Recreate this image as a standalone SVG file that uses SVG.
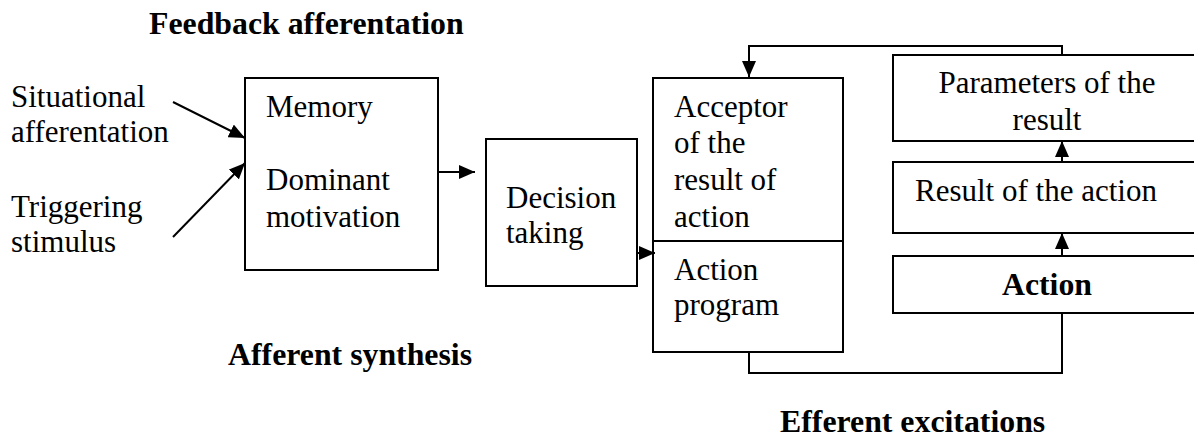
<svg xmlns="http://www.w3.org/2000/svg" width="1194" height="441" viewBox="0 0 1194 441">
<style>
.box{fill:#fff;stroke:#000;stroke-width:2}
.t{font-family:"Liberation Serif","Times New Roman",serif;font-size:31px;fill:#000}
.b{font-weight:bold;font-size:31.8px}
.ln{fill:none;stroke:#000;stroke-width:2}
</style>
<defs>
<marker id="ah" viewBox="0 0 16 14" refX="16" refY="7" markerWidth="16" markerHeight="14" markerUnits="userSpaceOnUse" orient="auto">
<path d="M0,0 L16,7 L0,14 Z" fill="#000"/>
</marker>
</defs>
<rect width="1194" height="441" fill="#fff"/>
<g id="labels">
<text class="t b" x="149" y="34">Feedback afferentation</text>
<text class="t b" x="228" y="365">Afferent synthesis</text>
<text class="t b" x="780" y="432">Efferent excitations</text>
</g>
<g id="inputs">
<text class="t" x="11" y="107">Situational</text>
<text class="t" x="11" y="142">afferentation</text>
<text class="t" x="11" y="217">Triggering</text>
<text class="t" x="11" y="252">stimulus</text>
</g>
<g id="memory">
<rect class="box" x="245" y="78" width="193" height="192"/>
<text class="t" x="266" y="117">Memory</text>
<text class="t" x="266" y="190">Dominant</text>
<text class="t" x="266" y="227">motivation</text>
</g>
<g id="decision">
<rect class="box" x="486" y="139" width="151" height="147"/>
<text class="t" x="506" y="208">Decision</text>
<text class="t" x="506" y="243">taking</text>
</g>
<g id="acceptor">
<rect class="box" x="653" y="78" width="190" height="274"/>
<line class="ln" x1="653" y1="241" x2="843" y2="241"/>
<text class="t" x="674" y="117">Acceptor</text>
<text class="t" x="674" y="153">of the</text>
<text class="t" x="674" y="190">result of</text>
<text class="t" x="674" y="227">action</text>
<text class="t" x="674" y="280">Action</text>
<text class="t" x="674" y="315">program</text>
</g>
<g id="parameters">
<rect class="box" x="893" y="55" width="310" height="86"/>
<text class="t" x="1047" y="93" text-anchor="middle">Parameters of the</text>
<text class="t" x="1047" y="130" text-anchor="middle">result</text>
</g>
<g id="result">
<rect class="box" x="893" y="162" width="310" height="71"/>
<text class="t" x="915" y="201">Result of the action</text>
</g>
<g id="action">
<rect class="box" x="893" y="256" width="310" height="57"/>
<text class="t b" x="1047" y="295" text-anchor="middle">Action</text>
</g>
<g id="connectors">
<line class="ln" x1="173" y1="102" x2="245" y2="138" marker-end="url(#ah)"/>
<line class="ln" x1="173" y1="237" x2="245" y2="163" marker-end="url(#ah)"/>
<line class="ln" x1="438" y1="172" x2="475" y2="172" marker-end="url(#ah)"/>
<line class="ln" x1="637" y1="253" x2="655" y2="253" marker-end="url(#ah)"/>
<polyline class="ln" points="1062,55 1062,46 749,46 749,77" marker-end="url(#ah)"/>
<line class="ln" x1="1062" y1="162" x2="1062" y2="141" marker-end="url(#ah)"/>
<line class="ln" x1="1062" y1="256" x2="1062" y2="233" marker-end="url(#ah)"/>
<polyline class="ln" points="1062,313 1062,373 749,373 749,352"/>
</g>
</svg>
